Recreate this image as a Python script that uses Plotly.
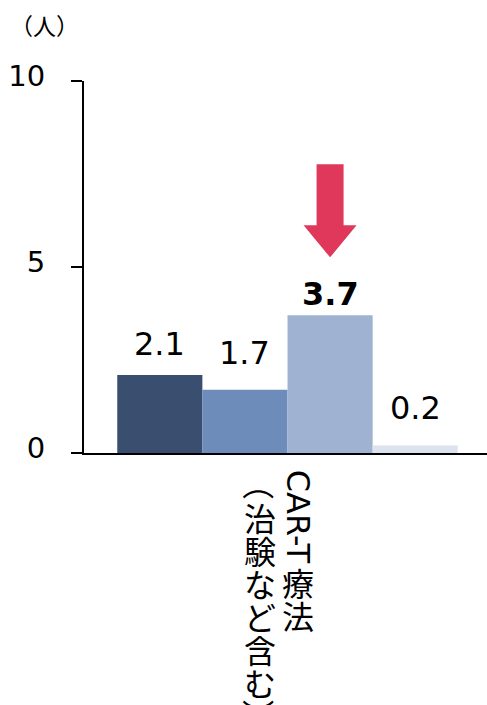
import plotly.graph_objects as go

# ---- data ----
categories = ["CAR-T療法（治験など含む）"]
series_names = ["系列1", "系列2", "系列3", "系列4"]
series_values = [2.1, 1.7, 3.7, 0.2]
label_lines = ["CAR-T療法", "（治験など含む）"]   # vertical label columns, right to left
y_tickvals = [0, 5, 10]
y_ticktext = ["0", "5", "10"]
unit_text = "（人）"

# ---- styles ----
bar_colors = ["#3A4F70", "#6D8CBA", "#9FB2D2", "#DCE3EF"]
label_bold = [False, False, True, False]
label_yshift = [31, 37, 21, 38]
arrow_color = "#E0385A"
highlight_index = 2

W, H = 487, 705
M_L, M_R, M_T, M_B = 84, 0, 81, 252
PLOT_W = W - M_L - M_R
PLOT_H = H - M_T - M_B
BARGAP = 0.155
X_OFFSET = 0.005
NUM_FONT = "DejaVu Sans"
JP_FONT = "DejaVu Sans, Noto Sans CJK JP"

fig = go.Figure()
for name, val, col in zip(series_names, series_values, bar_colors):
    fig.add_trace(go.Bar(
        x=categories, y=[val], name=name,
        marker=dict(color=col, line=dict(width=0)),
        showlegend=False, hoverinfo="skip",
    ))

# value labels above each bar
n = len(series_values)
group_w = 1 - BARGAP
bar_w = group_w / n
centers = [-group_w / 2 + (i + 0.5) * bar_w for i in range(n)]
for i, val in enumerate(series_values):
    txt = f"{val:.1f}"
    if label_bold[i]:
        txt = f"<b>{txt}</b>"
    fig.add_annotation(
        x=centers[i], y=val, xref="x", yref="y",
        text=txt, showarrow=False,
        xanchor="center", yanchor="middle", yshift=label_yshift[i],
        font=dict(family=NUM_FONT, size=32, color="#000000"),
    )

# block arrow above the highlighted bar
arrow_path = ("M -13.5 151 L 13.5 151 L 13.5 90 L 26.5 90 L 0 58 "
              "L -26.5 90 L -13.5 90 Z")
fig.add_shape(
    type="path", xref="x", yref="y",
    xsizemode="pixel", ysizemode="pixel",
    xanchor=centers[highlight_index], yanchor=series_values[highlight_index],
    path=arrow_path, fillcolor=arrow_color, line=dict(width=0),
)

# vertical (tategaki) category label
FS = 32
STEP = 33
col_xshift = [10, -27.5]
top_gap = 14.5
for line, xs in zip(label_lines, col_xshift):
    cursor = top_gap
    i = 0
    while i < len(line):
        ch = line[i]
        if ord(ch) < 128:
            j = i
            while j < len(line) and ord(line[j]) < 128:
                j += 1
            run = line[i:j]
            length = 0.61 * FS * len(run)
            center = cursor + length / 2
            fig.add_annotation(
                x=categories[0], xref="x", y=0, yref="paper",
                text=run, showarrow=False, textangle=90,
                xanchor="center", yanchor="middle",
                xshift=xs, yshift=-center,
                font=dict(family=JP_FONT, size=FS, color="#000000"),
            )
            cursor += length
            i = j
        else:
            center = cursor + STEP / 2
            rotate = ch in "（）"
            fig.add_annotation(
                x=categories[0], xref="x", y=0, yref="paper",
                text=ch, showarrow=False, textangle=90 if rotate else 0,
                xanchor="center", yanchor="middle",
                xshift=xs, yshift=-center,
                font=dict(family="Noto Sans CJK JP", size=FS, color="#000000"),
            )
            cursor += STEP
            i += 1

# unit label above the value axis
fig.add_annotation(
    x=(8 - M_L) / PLOT_W, y=(H - M_B - 25) / PLOT_H,
    xref="paper", yref="paper", text=unit_text, showarrow=False,
    xanchor="left", yanchor="middle",
    font=dict(family="Noto Sans CJK JP", size=23, color="#000000"),
)

fig.update_layout(
    width=W, height=H,
    margin=dict(l=M_L, r=M_R, t=M_T, b=M_B, pad=0),
    paper_bgcolor="#FFFFFF", plot_bgcolor="#FFFFFF",
    barmode="group", bargap=BARGAP, bargroupgap=0,
    xaxis=dict(
        showticklabels=False, ticks="", showgrid=False, zeroline=False,
        showline=True, linecolor="#000000", linewidth=2,
        range=[-0.5 - X_OFFSET, 0.5 - X_OFFSET],
    ),
    yaxis=dict(
        range=[0, 10], tickvals=y_tickvals, ticktext=y_ticktext,
        ticks="outside", ticklen=11, tickwidth=2, tickcolor="#000000",
        showline=True, linecolor="#000000", linewidth=2,
        showgrid=False, zeroline=False,
        tickfont=dict(family=NUM_FONT, size=29, color="#000000"),
        ticklabelstandoff=20, ticklabelshift=-5,
    ),
)

fig.write_html("out.html")
